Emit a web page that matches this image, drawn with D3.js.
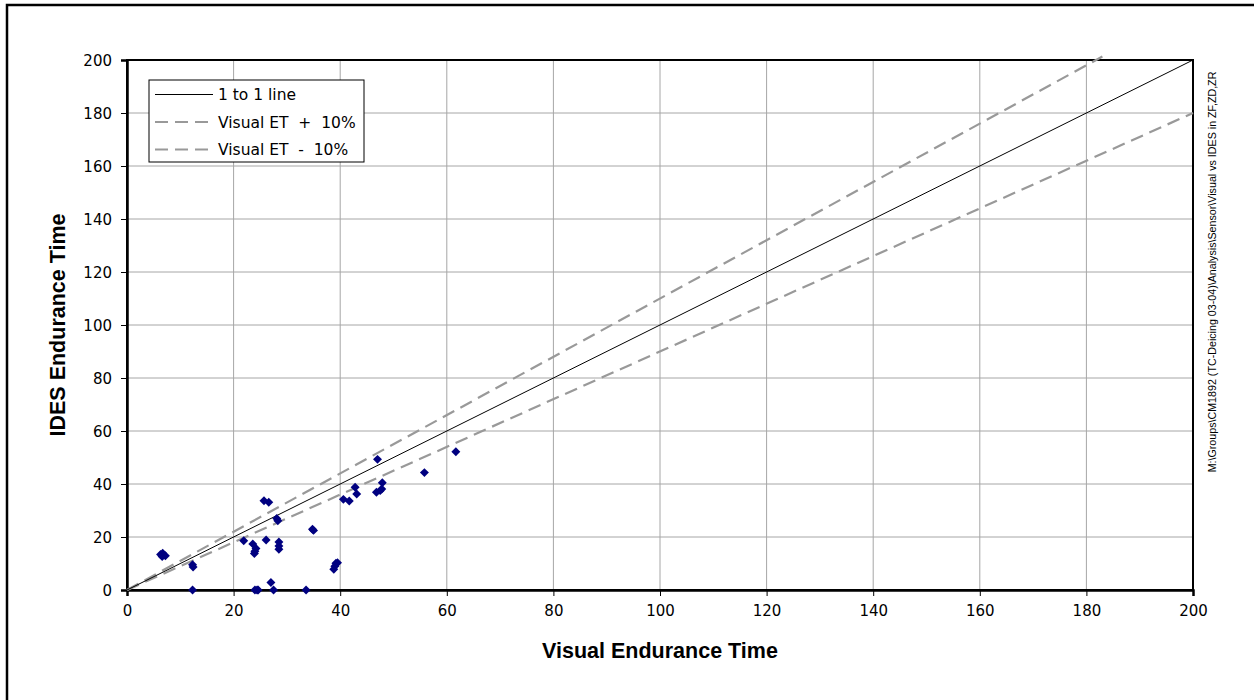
<!DOCTYPE html>
<html>
<head>
<meta charset="utf-8">
<script src="https://cdn.jsdelivr.net/npm/d3@7"></script>
<style>
  body { margin: 0; background: #fff; }
  svg { display: block; }
  .tick text { font-family: "DejaVu Sans", Verdana, sans-serif; font-size: 15px; fill: #000; }
</style>
</head>
<body>
<div id="chart"></div>
<script>
// Visual vs IDES endurance time (minutes)
var visualET = [6.3, 6.7, 7.2, 6.6, 12.3, 12.4, 12.3, 21.9, 23.6, 24.2, 23.9, 24.0,
  25.7, 26.6, 26.1, 28.1, 28.3, 28.5, 28.5, 28.5, 34.8, 35.0, 24.0, 24.6, 24.4,
  27.0, 27.5, 33.6, 38.8, 39.2, 39.5, 39.0, 40.6, 41.7, 42.8, 43.1, 46.8, 47.5,
  47.9, 47.8, 47.0, 55.8, 61.7];
var idesET = [13.4, 13.9, 12.9, 12.6, 9.5, 8.7, 0, 18.6, 17.4, 15.7, 13.8, 14.6,
  33.7, 33.1, 18.9, 27.0, 26.1, 18.1, 16.6, 15.4, 22.9, 22.5, 0, 0, 0,
  2.8, 0, 0, 7.8, 10.1, 10.3, 9.0, 34.2, 33.6, 38.8, 36.2, 36.9, 37.5,
  40.5, 38.1, 49.3, 44.3, 52.2];

// reference lines
var oneToOne = [[0, 0], [200, 200]];
var plusTen = [[0, 0], [183, 201.3]];
var minusTen = [[0, 0], [200, 180]];

var legendLabels = ["1 to 1 line", "Visual ET  +  10%", "Visual ET  -  10%"];
var ticks = [0, 20, 40, 60, 80, 100, 120, 140, 160, 180, 200];

var width = 1254, height = 700;
var plotLeft = 127, plotRight = 1193, plotTop = 60, plotBottom = 590;

var svg = d3.select("#chart").append("svg")
  .attr("width", width)
  .attr("height", height);

// outer frame (runs off the page right and bottom)
svg.append("rect")
  .attr("x", 7).attr("y", 5)
  .attr("width", 1260).attr("height", 710)
  .attr("fill", "none").attr("stroke", "#000").attr("stroke-width", 2.5);

var x = d3.scaleLinear().domain([0, 200]).range([plotLeft, plotRight]);
var y = d3.scaleLinear().domain([0, 200]).range([plotBottom, plotTop]);

// gridlines
svg.append("g").selectAll("line").data(ticks.slice(1, -1)).enter()
  .append("line")
    .attr("x1", function (d) { return x(d); }).attr("x2", function (d) { return x(d); })
    .attr("y1", plotTop).attr("y2", plotBottom)
    .attr("stroke", "#a6a6a6").attr("stroke-width", 1);
svg.append("g").selectAll("line").data(ticks.slice(1, -1)).enter()
  .append("line")
    .attr("y1", function (d) { return y(d); }).attr("y2", function (d) { return y(d); })
    .attr("x1", plotLeft).attr("x2", plotRight)
    .attr("stroke", "#a6a6a6").attr("stroke-width", 1);

// plot border
svg.append("rect")
  .attr("x", plotLeft).attr("y", plotTop)
  .attr("width", plotRight - plotLeft).attr("height", plotBottom - plotTop)
  .attr("fill", "none").attr("stroke", "#000").attr("stroke-width", 2);

// axes
var xAxis = svg.append("g")
  .attr("transform", "translate(0," + plotBottom + ")")
  .call(d3.axisBottom(x).tickValues(ticks).tickSize(6).tickPadding(12));
var yAxis = svg.append("g")
  .attr("transform", "translate(" + plotLeft + ",0)")
  .call(d3.axisLeft(y).tickValues(ticks).tickSize(6).tickPadding(9));
[xAxis, yAxis].forEach(function (a) {
  a.select(".domain").attr("stroke", "#000").attr("stroke-width", 2.5);
  a.selectAll(".tick line").attr("stroke", "#000");
});
xAxis.selectAll(".tick text").attr("dy", "0.5em");
yAxis.selectAll(".tick text").attr("dy", "0.36em");

// reference lines
var line = d3.line()
  .x(function (d) { return x(d[0]); })
  .y(function (d) { return y(d[1]); });

svg.append("path").datum(plusTen).attr("d", line)
  .attr("fill", "none").attr("stroke", "#999").attr("stroke-width", 2.2)
  .attr("stroke-dasharray", "13,7");
svg.append("path").datum(minusTen).attr("d", line)
  .attr("fill", "none").attr("stroke", "#999").attr("stroke-width", 2.2)
  .attr("stroke-dasharray", "13,7");
svg.append("path").datum(oneToOne).attr("d", line)
  .attr("fill", "none").attr("stroke", "#000").attr("stroke-width", 1);

// data points (diamonds)
var diamond = d3.symbol().type(d3.symbolSquare).size(40);
svg.append("g").selectAll("path").data(visualET).enter()
  .append("path")
    .attr("d", diamond)
    .attr("transform", function (d, i) {
      return "translate(" + x(d) + "," + y(idesET[i]) + ") rotate(45)";
    })
    .attr("fill", "#000080");

// legend
var legend = svg.append("g").attr("transform", "translate(149,80)");
legend.append("rect")
  .attr("width", 215).attr("height", 82)
  .attr("fill", "#fff").attr("stroke", "#000").attr("stroke-width", 1);
var rows = legend.selectAll("g.row").data(legendLabels).enter()
  .append("g")
    .attr("transform", function (d, i) { return "translate(0," + (14.5 + i * 27.5) + ")"; });
rows.append("line")
  .attr("x1", 6).attr("x2", 64)
  .attr("stroke", function (d, i) { return i == 0 ? "#000" : "#999"; })
  .attr("stroke-width", function (d, i) { return i == 0 ? 1 : 2.2; })
  .attr("stroke-dasharray", function (d, i) { return i == 0 ? null : "13,7"; });
rows.append("text")
  .attr("x", 69).attr("dy", "0.36em")
  .attr("font-family", "DejaVu Sans, Verdana, sans-serif")
  .attr("font-size", 15.5)
  .style("white-space", "pre")
  .text(function (d) { return d; });

// axis titles
svg.append("text")
  .attr("x", (plotLeft + plotRight) / 2).attr("y", 658)
  .attr("text-anchor", "middle")
  .attr("font-family", "Liberation Sans, Arial, sans-serif")
  .attr("font-weight", "bold").attr("font-size", 21.5)
  .text("Visual Endurance Time");
svg.append("text")
  .attr("transform", "translate(65," + ((plotTop + plotBottom) / 2) + ") rotate(-90)")
  .attr("text-anchor", "middle")
  .attr("font-family", "Liberation Sans, Arial, sans-serif")
  .attr("font-weight", "bold").attr("font-size", 21.5)
  .text("IDES Endurance Time");

// file path note
svg.append("text")
  .attr("transform", "translate(1216,272) rotate(-90)")
  .attr("text-anchor", "middle")
  .attr("font-family", "Liberation Sans, Arial, sans-serif")
  .attr("font-size", 10.7)
  .text("M:\\Groups\\CM1892 (TC-Deicing 03-04)\\Analysis\\Sensor\\Visual vs IDES in ZF,ZD,ZR");
</script>
</body>
</html>
